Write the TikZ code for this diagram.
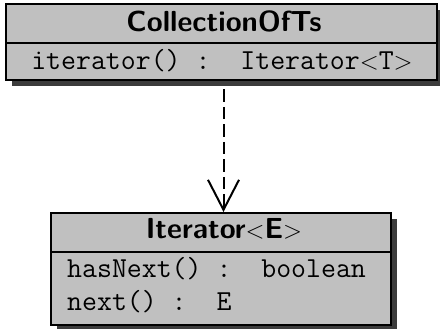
\documentclass[tikz,border=0pt]{standalone}
\usepackage{fontspec}
\usetikzlibrary{arrows.meta,shadows,backgrounds}
\definecolor{boxgray}{HTML}{C0C0C0}
\definecolor{shadowgray}{HTML}{3C3C3C}
\begin{document}
\begin{tikzpicture}[x=1pt,y=-1pt,
  classbox/.style={draw=black, line width=2pt, fill=boxgray, inner sep=0pt,
    drop shadow={shadow xshift=6pt, shadow yshift=-6pt, fill=shadowgray, opacity=1}},
  divider/.style={line width=2pt, draw=black},
  classname/.style={anchor=base, inner sep=0pt, font=\fontsize{29pt}{35pt}\selectfont\sffamily\bfseries},
  member/.style={anchor=base, inner sep=0pt, font=\fontsize{29pt}{35pt}\selectfont\ttfamily},
  realizes/.style={line width=2pt, dash pattern=on 12.5pt off 5pt, dash phase=9.2pt,
    -{Straight Barb[length=30pt, width=31pt]}}
]
\useasboundingbox (0,0) rectangle (440,329);

% Class CollectionOfTs
\node[classbox, minimum width=431pt, minimum height=75.5pt] (coll) at (221,42.25) {};
\coordinate (collL) at (5.5,43);
\coordinate (collR) at (436.5,43);
\draw[divider] (collL) -- (collR);
\node[classname] (collname) at (224,31.7) {CollectionOfTs};
\node[member] (collop) at (222,70) {iterator()\ :\ \ Iterator$<$T$>$};

% Interface Iterator<E>
\node[classbox, minimum width=340pt, minimum height=112pt] (iter) at (221,269) {};
\coordinate (iterL) at (51,252);
\coordinate (iterR) at (391,252);
\draw[divider] (iterL) -- (iterR);
\node[classname] (itername) at (224,238) {Iterator$<$E$>$};
\node[member, anchor=base west] (iterop1) at (67,277.3) {hasNext()\ :\ \ boolean};
\node[member, anchor=base west] (iterop2) at (67,310) {next()\ :\ \ E};

% Realization connector, kept behind the shadows
\begin{pgfonlayer}{background}
\draw[realizes] ([xshift=2.5pt]coll.south) -- ([xshift=2.5pt]iter.north);
\end{pgfonlayer}
\end{tikzpicture}
\end{document}
